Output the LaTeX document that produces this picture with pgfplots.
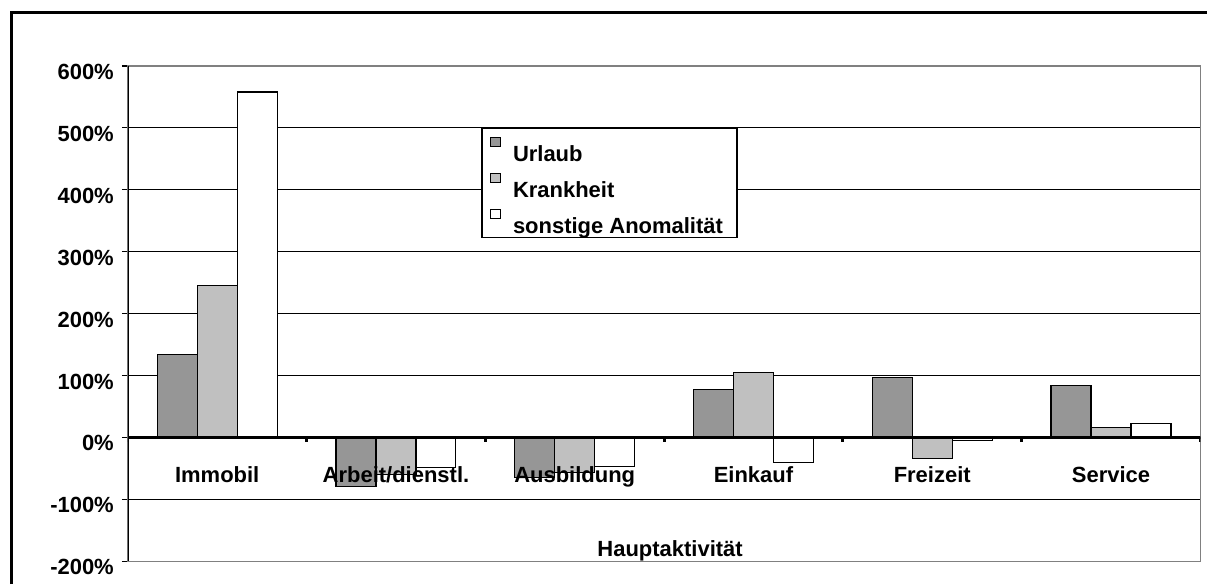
\documentclass[border=0pt]{standalone}
\usepackage{fontspec}
\setmainfont{Liberation Sans}
\usepackage{pgfplots}
\pgfplotsset{compat=1.18}
\definecolor{urlaub}{RGB}{150,150,150}
\definecolor{krank}{RGB}{192,192,192}
\pgfplotsset{
  common/.style={
    at={(64pt,11.5pt)}, anchor=south west, scale only axis, width=537pt, height=248pt,
    xmin=0.5, xmax=6.5, ymin=-200, ymax=600,
    tick label style={font=\fontsize{11}{13}\selectfont\bfseries},
    label style={font=\fontsize{11}{13}\selectfont\bfseries},
    tick align=outside, major tick length=3pt,
  },
}
\begin{document}
\begin{tikzpicture}
\path (0,0) rectangle (604.5pt,292.5pt);
\draw[line width=1.65pt] (5.85pt,0pt) -- (5.85pt,286.25pt) -- (604.5pt,286.25pt);
\begin{axis}[
 common,
 ybar=0pt, bar width=20pt,
 xtick={1,...,6}, xticklabels={},
 ytick={-200,-100,...,600},
 yticklabel={\pgfmathprintnumber{\tick}\%},
 /pgf/number format/assume math mode=true,
 ymajorgrids, major grid style={black, line width=0.6pt},
 axis line style={draw=gray, line width=0.7pt},
 ytick pos=left, xtick pos=bottom,
 major x tick style={draw=none},
 major y tick style={black, line width=0.6pt},
 y tick label style={yshift=-3pt, xshift=-0.5pt},
 legend style={at={(0.3296,0.875)}, anchor=north west, draw=black, line width=0.6pt,
   inner xsep=4pt, inner ysep=1.5pt, row sep=2.5pt, column sep=3pt,
   font=\fontsize{11}{13}\selectfont\bfseries,
   nodes={text height=14.5pt, text depth=0pt, inner ysep=0.5pt, inner xsep=3pt}},
 legend cell align=left,
 myleg/.style={legend image code/.code={\draw[##1, line width=0.5pt] (0pt,0pt) rectangle (5pt,4.5pt); \path (0pt,6.5pt);}},
]
\addplot[draw=black, fill=urlaub, line width=0.6pt, myleg] coordinates {(1,134) (2,-79) (3,-65) (4,77) (5,97) (6,84)};
\addplot[draw=black, fill=krank, line width=0.6pt, myleg] coordinates {(1,245) (2,-60) (3,-57) (4,105) (5,-34) (6,16)};
\addplot[draw=black, fill=white, line width=0.6pt, myleg] coordinates {(1,558) (2,-48) (3,-47) (4,-40) (5,-5) (6,23)};
\legend{Urlaub, Krankheit, sonstige Anomalität}
\draw[black, line width=0.7pt] (rel axis cs:0,0) -- (rel axis cs:0,1);
\draw[black, line width=1.6pt] (axis cs:0.5,0) -- ([xshift=3pt]axis cs:6.5,0);
\pgfplotsinvokeforeach{0.5,1.5,2.5,3.5,4.5,5.5,6.5}{
  \draw[black, line width=1.5pt] (axis cs:#1,0) -- ([yshift=-2.5pt]axis cs:#1,0);
}
\end{axis}
\begin{axis}[
 common,
 axis line style={draw=none},
 xtick={1,...,6}, xticklabels={Immobil, Arbeit/dienstl., Ausbildung, Einkauf, Freizeit, Service},
 ytick=\empty, xtick pos=bottom,
 major x tick style={draw=none},
 x tick label style={anchor=base, yshift=42.5pt},
 xlabel={Hauptaktivität},
 xlabel style={at={(axis description cs:0.5,0)}, anchor=base, yshift=2.5pt, xshift=3pt},
]
\end{axis}
\end{tikzpicture}
\end{document}
